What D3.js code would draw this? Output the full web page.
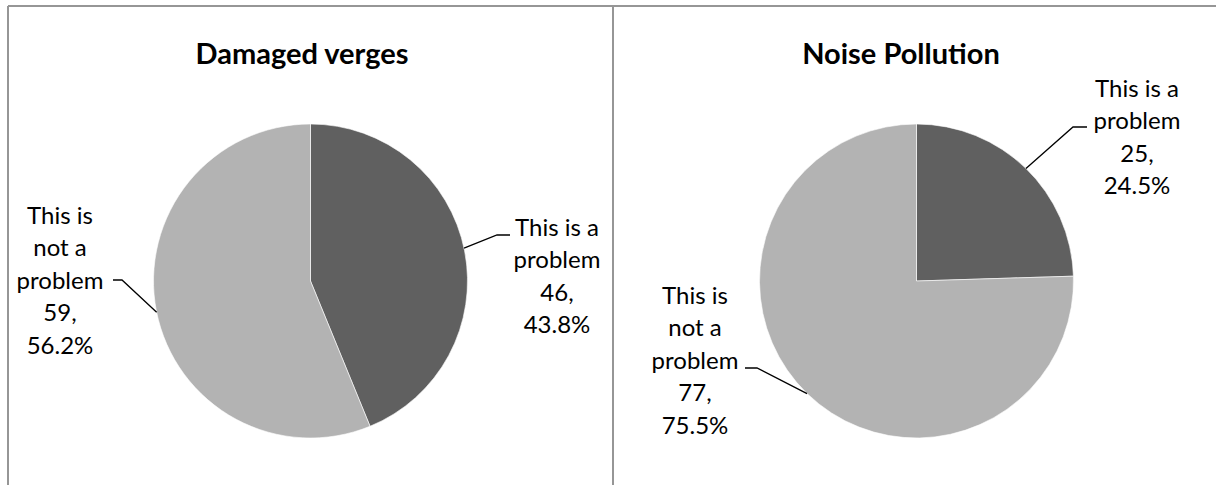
<!DOCTYPE html>
<html><head><meta charset="utf-8">
<script src="https://cdn.jsdelivr.net/npm/d3@7"></script>
<style>html,body{margin:0;padding:0;background:#fff;}svg{display:block;}</style>
</head><body>
<svg id="chart" width="1216" height="485"></svg>
<script>
// ---- data ----
const categories = ["This is a problem", "This is not a problem"];
const chartTitles = ["Damaged verges", "Noise Pollution"];
const damagedVergesValues = [46, 59];
const noisePollutionValues = [25, 77];
const labelLines = [["This is a", "problem"], ["This is", "not a", "problem"]];

// ---- layout ----
const colors = ["#606060", "#b3b3b3"];
const FONT = "Lato, 'Open Sans', sans-serif";
const svg = d3.select("#chart");

const panels = [
  { title: chartTitles[0], values: damagedVergesValues, cx: 310.5, cy: 281, r: 157, titleX: 302,
    labels: [
      { angle: 77.9, elbow: [497, 235], end: [510, 235], tx: 557, ty: 227 },
      { angle: 258.5, elbow: [122, 280], end: [113, 280], tx: 60, ty: 215 }
    ] },
  { title: chartTitles[1], values: noisePollutionValues, cx: 916.5, cy: 281, r: 157, titleX: 901,
    labels: [
      { angle: 44.2, elbow: [1073, 127], end: [1087, 127], tx: 1137, ty: 88 },
      { angle: 224.2, elbow: [757, 368], end: [745, 368], tx: 695, ty: 295 }
    ] }
];

// borders
const border = svg.append("g").attr("fill", "none").attr("stroke", "#969696").attr("stroke-width", 2);
border.append("line").attr("x1", 8).attr("x2", 1216).attr("y1", 6).attr("y2", 6);
border.append("line").attr("x1", 8).attr("x2", 8).attr("y1", 6).attr("y2", 485);
border.append("line").attr("x1", 613).attr("x2", 613).attr("y1", 6).attr("y2", 485);

const pie = d3.pie().sort(null).value(d => d);
const lineH = 32.5, fs = 24;

panels.forEach(p => {
  const g = svg.append("g");
  g.append("text").attr("x", p.titleX).attr("y", 64).attr("text-anchor", "middle")
    .attr("font-family", FONT).attr("font-weight", "bold").attr("font-size", 29).attr("fill", "#000")
    .text(p.title);

  const arc = d3.arc().innerRadius(0).outerRadius(p.r);
  const total = d3.sum(p.values);
  const arcs = pie(p.values);
  const pg = g.append("g").attr("transform", `translate(${p.cx},${p.cy})`);
  pg.selectAll("path").data(arcs).join("path")
    .attr("d", arc).attr("fill", (d, i) => colors[i])
    .attr("stroke", "#fff").attr("stroke-width", 0.6);

  arcs.forEach((a, i) => {
    const L = p.labels[i];
    const ang = L.angle * Math.PI / 180;
    const sx = p.cx + p.r * Math.sin(ang), sy = p.cy - p.r * Math.cos(ang);
    g.append("polyline")
      .attr("points", [[sx, sy], L.elbow, L.end].map(q => q.join(",")).join(" "))
      .attr("fill", "none").attr("stroke", "#000").attr("stroke-width", 1.3);
    const lines = labelLines[i].concat([a.data + ",", (a.data / total * 100).toFixed(1) + "%"]);
    const t = g.append("text").attr("text-anchor", "middle").attr("font-family", FONT)
      .attr("font-size", fs).attr("fill", "#000");
    lines.forEach((s, k) => {
      t.append("tspan").attr("x", L.tx).attr("y", L.ty + k * lineH + fs * 0.36).text(s);
    });
  });
});
</script>
</body></html>
